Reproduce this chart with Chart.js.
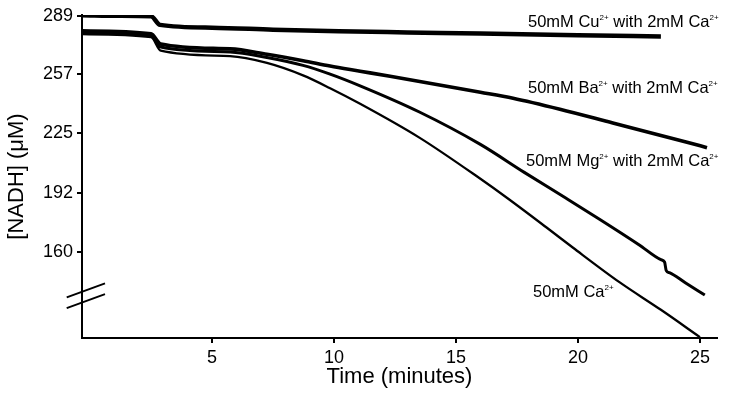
<!DOCTYPE html>
<html>
<head>
<meta charset="utf-8">
<script src="https://cdn.jsdelivr.net/npm/chart.js@4.4.0/dist/chart.umd.min.js"></script>
<style>
  html, body { margin: 0; padding: 0; background: #fff; }
  #wrap { width: 729px; height: 402px; }
</style>
</head>
<body>
<div id="wrap"><canvas id="nadhChart"></canvas></div>
<script>
// Traces: time (minutes) and [NADH] (uM)
const cuTime = [-0.33, 1.2, 2.5, 2.87, 5.0, 7.5, 10.2, 13.0, 16.0, 20.0, 23.4];
const cuNadh = [289.4, 289.1, 288.8, 284.1, 282.6, 281.5, 280.6, 280.0, 279.4, 278.5, 277.7];

const baTime = [-0.33, 2.5, 2.9, 5.74, 7.25, 8.73, 9.84, 11.07, 12.3, 16.0, 17.34, 19.26, 21.43, 24.47, 25.29];
const baNadh = [280.8, 279.2, 273.7, 271.0, 268.0, 264.5, 261.6, 258.8, 256.0, 247.3, 244.0, 238.0, 230.5, 220.0, 217.0];

const mgTime = [-0.33, 2.5, 2.9, 5.74, 7.25, 8.73, 9.84, 11.07, 13.5, 16.0, 17.8, 19.5, 20.9, 22.5, 23.4, 23.55, 23.62, 23.75, 24.4, 25.2];
const mgNadh = [279.9, 278.2, 272.0, 269.3, 266.3, 262.0, 257.2, 250.8, 236.5, 218.8, 203.5, 189.5, 177.8, 164.0, 155.8, 154.5, 149.8, 148.7, 143.2, 136.5];

const caTime = [-0.33, 2.5, 2.9, 5.74, 7.25, 8.73, 9.84, 11.07, 13.5, 16.0, 17.1, 18.7, 19.8, 21.7, 23.4, 25.0];
const caNadh = [279.0, 277.4, 270.0, 267.0, 263.3, 256.5, 249.5, 241.0, 222.5, 200.0, 189.5, 173.5, 162.3, 143.5, 128.4, 113.5];

const xTicks = [5, 10, 15, 20, 25];
const yTicks = [160, 192, 225, 257, 289];

const FONT = '"Liberation Sans", Arial, sans-serif';

const toPoints = (ts, vs) => ts.map((t, i) => ({ x: t, y: vs[i] }));

// Curve labels with superscript charges
const curveLabels = [
    { x: 528, y: 26.5, parts: [['50mM Cu'], ['2+', 1], [' with 2mM Ca'], ['2+', 1]] },
    { x: 528, y: 93, parts: [['50mM Ba'], ['2+', 1], [' with 2mM Ca'], ['2+', 1]] },
    { x: 526, y: 165.5, parts: [['50mM Mg'], ['2+', 1], [' with 2mM Ca'], ['2+', 1]] },
    { x: 533, y: 296.5, parts: [['50mM Ca'], ['2+', 1]] }
];

const labelPlugin = {
    id: 'curveLabels',
    afterDatasetsDraw(chart) {
        const ctx = chart.ctx;
        ctx.save();
        ctx.fillStyle = '#000';
        ctx.textBaseline = 'alphabetic';
        ctx.textAlign = 'left';
        curveLabels.forEach(l => {
            let x = l.x;
            l.parts.forEach(([txt, sup]) => {
                ctx.font = sup ? `8px ${FONT}` : `16.5px ${FONT}`;
                ctx.fillText(txt, x, sup ? l.y - 7 : l.y);
                x += ctx.measureText(txt).width;
            });
        });
        ctx.restore();
    }
};

// Axis break marks on the y axis
const breakPlugin = {
    id: 'axisBreak',
    afterDraw(chart) {
        const ctx = chart.ctx;
        const ax = chart.chartArea.left;
        const cy = chart.scales.y.getPixelForValue(136.1);
        ctx.save();
        ctx.strokeStyle = '#000';
        ctx.lineWidth = 2;
        [-5.4, 5.4].forEach(off => {
            ctx.beginPath();
            ctx.moveTo(ax - 15.3, cy + off + 7);
            ctx.lineTo(ax + 23, cy + off - 7);
            ctx.stroke();
        });
        ctx.restore();
    }
};

const trace = (data, width) => ({
    data: data,
    borderColor: '#000',
    borderWidth: width,
    borderJoinStyle: 'round',
    pointRadius: 0,
    fill: false,
    cubicInterpolationMode: 'monotone'
});

new Chart(document.getElementById('nadhChart'), {
    type: 'line',
    data: {
        datasets: [
            trace(toPoints(cuTime, cuNadh), 4.5),
            trace(toPoints(baTime, baNadh), 3.6),
            trace(toPoints(mgTime, mgNadh), 3),
            trace(toPoints(caTime, caNadh), 2.3)
        ]
    },
    options: {
        responsive: true,
        maintainAspectRatio: false,
        animation: false,
        layout: { padding: { top: 15, right: 12, left: 0, bottom: 0 } },
        plugins: {
            legend: { display: false },
            tooltip: { enabled: false }
        },
        scales: {
            x: {
                type: 'linear',
                min: -0.33,
                max: 25.7,
                afterBuildTicks: s => { s.ticks = xTicks.map(v => ({ value: v })); },
                afterFit: s => { s.height = 64; },
                ticks: { color: '#000', font: { family: FONT, size: 18 }, padding: 4, maxRotation: 0 },
                grid: { drawOnChartArea: false, drawTicks: true, tickLength: 5, color: '#000', lineWidth: 2 },
                border: { display: true, color: '#000', width: 2 },
                title: {
                    display: true,
                    text: 'Time (minutes)',
                    color: '#000',
                    font: { family: FONT, size: 22 },
                    padding: { top: 0, bottom: 12 }
                }
            },
            y: {
                min: 113,
                max: 289.5,
                afterBuildTicks: s => { s.ticks = yTicks.map(v => ({ value: v })); },
                afterFit: s => { s.width = 82; },
                ticks: { color: '#000', font: { family: FONT, size: 18 }, padding: 4 },
                grid: { drawOnChartArea: false, drawTicks: true, tickLength: 5, color: '#000', lineWidth: 2 },
                border: { display: true, color: '#000', width: 2 },
                title: {
                    display: true,
                    text: '[NADH] (μM)',
                    color: '#000',
                    font: { family: FONT, size: 22 },
                    padding: { top: 4, bottom: 0 }
                }
            }
        }
    },
    plugins: [labelPlugin, breakPlugin]
});
</script>
</body>
</html>
